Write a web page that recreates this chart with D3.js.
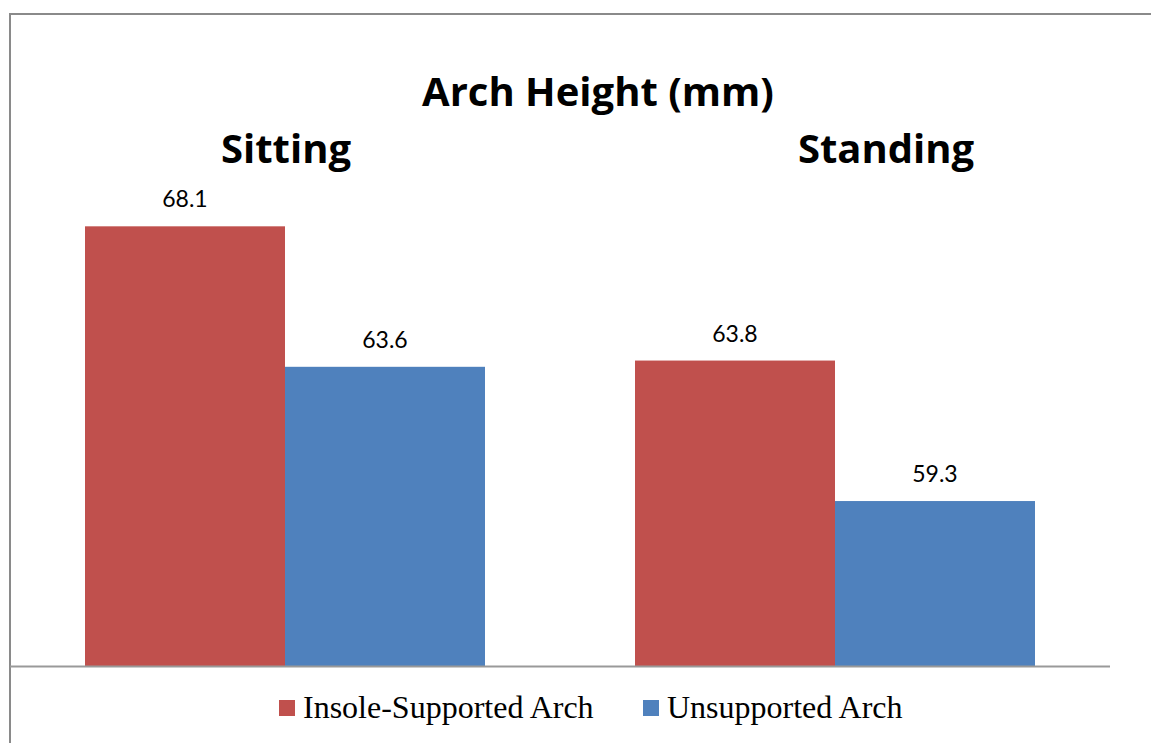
<!DOCTYPE html>
<html><head><meta charset="utf-8">
<script src="https://cdn.jsdelivr.net/npm/d3@7"></script>
<style>html,body{margin:0;padding:0;background:#fff;}svg{display:block;}</style>
</head><body>
<svg id="chart" width="1151" height="743"></svg>
<script>
const title = "Arch Height (mm)";
const categories = ["Sitting", "Standing"];
const seriesNames = ["Insole-Supported Arch", "Unsupported Arch"];
const insoleValues = [68.1, 63.8];
const unsupportedValues = [63.6, 59.3];
const colors = ["#C0504D", "#4F81BD"];

const svg = d3.select("#chart");
const W = 1151, H = 743;

// frame
svg.append("line").attr("x1", 10).attr("x2", W).attr("y1", 14).attr("y2", 14)
  .attr("stroke", "#8a8a8a").attr("stroke-width", 2);
svg.append("line").attr("x1", 10).attr("x2", 10).attr("y1", 13).attr("y2", H)
  .attr("stroke", "#8a8a8a").attr("stroke-width", 2);

const x0 = d3.scaleBand().domain(categories).range([10, 1110]).padding(0);
const x1 = d3.scaleBand().domain(seriesNames).range([75, 475]).padding(0);
const y = d3.scaleLinear().domain([54, 70]).range([666.5, 167]);

const data = categories.map((c, i) => ({
  cat: c,
  vals: [
    {s: seriesNames[0], v: insoleValues[i], c: colors[0]},
    {s: seriesNames[1], v: unsupportedValues[i], c: colors[1]}
  ]
}));

const g = svg.append("g");
const groups = g.selectAll("g.grp").data(data).join("g")
  .attr("transform", d => `translate(${x0(d.cat)},0)`);
groups.selectAll("rect").data(d => d.vals).join("rect")
  .attr("x", d => x1(d.s)).attr("width", x1.bandwidth())
  .attr("y", d => y(d.v)).attr("height", d => y(54) - y(d.v))
  .attr("fill", d => d.c);
groups.selectAll("text.val").data(d => d.vals).join("text")
  .attr("class", "val")
  .attr("x", d => x1(d.s) + x1.bandwidth() / 2)
  .attr("y", d => y(d.v) - 19)
  .attr("text-anchor", "middle")
  .attr("font-family", "Lato, 'Open Sans', sans-serif")
  .attr("font-size", 23)
  .attr("fill", "#000")
  .text(d => d.v.toFixed(1));

// baseline
svg.append("line").attr("x1", 10).attr("x2", 1110).attr("y1", y(54)).attr("y2", y(54))
  .attr("stroke", "#999").attr("stroke-width", 2);

// title
svg.append("text").attr("x", 598).attr("y", 106).attr("text-anchor", "middle")
  .attr("font-family", "'Open Sans', sans-serif").attr("font-weight", "bold").attr("font-size", 40)
  .text(title);
// category headers
const catX = {"Sitting": x0("Sitting") + x0.bandwidth() / 2 + 1, "Standing": x0("Standing") + x0.bandwidth() / 2 + 51};
svg.selectAll("text.cat").data(categories).join("text").attr("class", "cat")
  .attr("x", d => catX[d]).attr("y", 163).attr("text-anchor", "middle")
  .attr("font-family", "'Open Sans', sans-serif").attr("font-weight", "bold").attr("font-size", 40)
  .text(d => d);

// legend
const legendItems = [
  {name: seriesNames[0], color: colors[0], x: 279},
  {name: seriesNames[1], color: colors[1], x: 643}
];
const lg = svg.selectAll("g.leg").data(legendItems).join("g").attr("class", "leg")
  .attr("transform", d => `translate(${d.x},700)`);
lg.append("rect").attr("width", 16).attr("height", 16).attr("fill", d => d.color);
lg.append("text").attr("x", 24).attr("y", 18)
  .attr("font-family", "'Liberation Serif', 'Times New Roman', serif").attr("font-size", 32)
  .text(d => d.name);
</script>
</body></html>
